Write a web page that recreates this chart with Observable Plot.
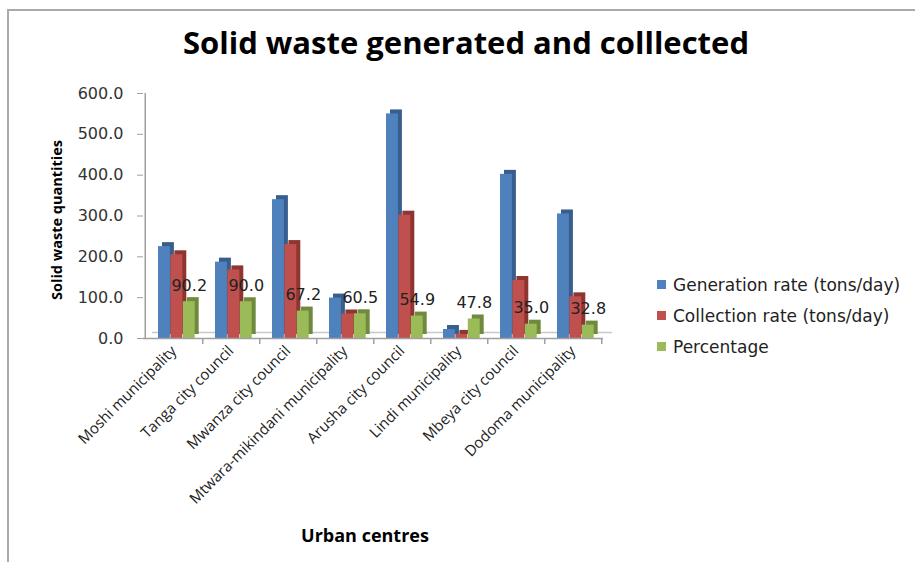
<!DOCTYPE html>
<html>
<head>
<meta charset="utf-8">
<script src="https://cdn.jsdelivr.net/npm/d3@7"></script>
<script src="https://cdn.jsdelivr.net/npm/@observablehq/plot@0.6"></script>
<style>
  html, body { margin: 0; padding: 0; background: #fff; }
  #wrap { position: relative; width: 915px; height: 562px; overflow: hidden; background: #fff; }
  #frame { position: absolute; left: 7px; top: 9px; width: 940px; height: 600px; border-left: 2px solid #aaa; border-top: 2px solid #aaa; }
  #title { position: absolute; left: 0; top: 22px; width: 932px; text-align: center; font: bold 31px "Open Sans", sans-serif; color: #000; line-height: 40px; }
  #plot { position: absolute; left: 0; top: 62px; }
  #ylab { position: absolute; left: 56px; top: 220px; transform: translate(-50%, -50%) rotate(-90deg); white-space: nowrap; font: bold 14.5px "Open Sans", sans-serif; color: #000; }
  #xlab { position: absolute; left: 365px; top: 535px; transform: translate(-50%, -50%); white-space: nowrap; font: bold 18px "Open Sans", sans-serif; color: #000; }
  #legend { position: absolute; left: 657px; top: 269px; font: 17px "DejaVu Sans", sans-serif; color: #222; }
  .item { height: 31px; display: flex; align-items: center; white-space: nowrap; }
  .sw { width: 9px; height: 9px; margin-right: 7px; display: inline-block; }
</style>
</head>
<body>
<div id="wrap">
  <div id="frame"></div>
  <div id="title">Solid waste generated and colllected</div>
  <div id="plot"></div>
  <div id="ylab">Solid waste quantities</div>
  <div id="xlab">Urban centres</div>
  <div id="legend"></div>
</div>
<script>
const cities = ["Moshi municipality", "Tanga city council", "Mwanza city council", "Mtwara-mikindani municipality", "Arusha city council", "Lindi municipality", "Mbeya city council", "Dodoma municipality"];
const generation = [225, 187, 340, 99, 550, 22, 402, 305];
const collection = [205, 168, 230, 60, 302, 10, 142, 102];
const percentage = [90.2, 90.0, 67.2, 60.5, 54.9, 47.8, 35.0, 32.8];
const seriesNames = ["Generation rate (tons/day)", "Collection rate (tons/day)", "Percentage"];
const yTicks = [0, 100, 200, 300, 400, 500, 600];

const colors = ["#4F81BD", "#C0504D", "#9BBB59"];
const sideColors = ["#375E8C", "#8E3532", "#6F8A3C"];

const series = [generation, collection, percentage];
const rows = series.map(vals => cities.map((c, i) => ({city: c, value: vals[i]})));
const pctRows = cities.map((c, i) => ({city: c, value: percentage[i]}));

const mL = 143, mR = 97, W = 700;
const bw = (W - mL - mR) / cities.length;   // band width
const barW = 12.4, lead = 13;

const marks = [];
// floor (3D base)
marks.push(Plot.ruleY([0], {stroke: "#c8c8c8", strokeWidth: 1.5, dx: 9, dy: -6}));
rows.forEach((data, s) => {
  const insetLeft = lead + barW * s;
  const insetRight = bw - lead - barW * (s + 1);
  marks.push(Plot.barY(data, {x: "city", y: "value", fill: sideColors[s], insetLeft, insetRight, dx: 4, dy: -4}));
  marks.push(Plot.barY(data, {x: "city", y: "value", fill: colors[s], insetLeft, insetRight}));
});
marks.push(Plot.ruleY([0], {stroke: "#a0a0a0", strokeWidth: 1.5}));
marks.push(Plot.ruleX([cities[0]], {x: d => d, y1: 0, y2: 600, dx: -bw / 2, stroke: "#a0a0a0", strokeWidth: 1.5}));
marks.push(Plot.ruleX(cities, {x: d => d, y1: 0, y2: 0, dx: bw / 2, insetBottom: -6, stroke: "#a0a0a0", strokeWidth: 1.5}));
marks.push(Plot.text(pctRows, {x: "city", y: "value", text: d => d.value.toFixed(1), dx: lead + barW * 2.5 - bw / 2, dy: -16, fontSize: 16, fill: "#222", fontFamily: "DejaVu Sans"}));
marks.push(Plot.axisY({ticks: yTicks, tickFormat: d => d.toFixed(1), tickSize: 6, tickPadding: 14, fontSize: 16, fontFamily: "DejaVu Sans", fill: "#333", stroke: "#a0a0a0", label: null}));
marks.push(Plot.axisX({tickRotate: -45, tickSize: 0, tickPadding: 10, fontSize: 15, fontFamily: "Open Sans", fill: "#222", label: null}));

const chart = Plot.plot({
  width: W,
  height: 500,
  marginLeft: mL,
  marginRight: mR,
  marginTop: 31,
  marginBottom: 224,
  style: {background: "transparent", overflow: "visible"},
  x: {domain: cities, padding: 0, label: null},
  y: {domain: [0, 600], label: null},
  marks
});
document.getElementById("plot").appendChild(chart);

const legend = document.getElementById("legend");
seriesNames.forEach((n, i) => {
  const d = document.createElement("div");
  d.className = "item";
  d.innerHTML = `<span class="sw" style="background:${colors[i]}"></span><span>${n}</span>`;
  legend.appendChild(d);
});
</script>
</body>
</html>
